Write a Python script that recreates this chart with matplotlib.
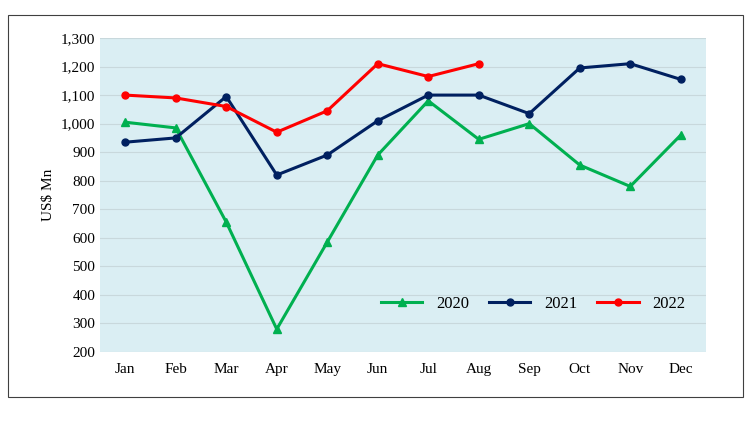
import matplotlib.pyplot as plt
from matplotlib.patches import Rectangle

months = ['Jan', 'Feb', 'Mar', 'Apr', 'May', 'Jun', 'Jul', 'Aug', 'Sep', 'Oct', 'Nov', 'Dec']
y2020 = [1005, 985, 655, 280, 585, 890, 1080, 945, 1000, 855, 780, 960]
y2021 = [935, 950, 1095, 820, 890, 1010, 1100, 1100, 1035, 1195, 1210, 1155]
y2022 = [1100, 1090, 1060, 970, 1045, 1210, 1165, 1210]

plt.rcParams['font.family'] = 'Liberation Serif'

fig = plt.figure(figsize=(7.5, 4.22), dpi=100)
fig.patches.append(Rectangle((8 / 750, 1 - 397 / 422), 735 / 750, 382 / 422,
                             transform=fig.transFigure, fill=False, edgecolor='#404040', linewidth=0.8))
ax = fig.add_axes([100 / 750, 1 - 352 / 422, 606 / 750, 314 / 422])
ax.set_facecolor('#DAEEF3')

x = list(range(len(months)))
ax.plot(x, y2020, color='#00B050', marker='^', markersize=6, linewidth=2.2, label='2020')
ax.plot(x, y2021, color='#002060', marker='o', markersize=5, linewidth=2.2, label='2021')
ax.plot(x[:len(y2022)], y2022, color='#FF0000', marker='o', markersize=5, linewidth=2.2, label='2022')

ax.set_xlim(-0.5, 11.5)
ax.set_ylim(200, 1300)
ax.set_yticks(range(200, 1301, 100))
ax.set_yticklabels([f'{v:,}' for v in range(200, 1301, 100)])
ax.set_xticks(x)
ax.set_xticklabels(months)
ax.tick_params(labelsize=11, length=0)
ax.tick_params(axis='x', pad=8)
ax.grid(axis='y', color='#C8D8DC', linewidth=0.8)
ax.set_axisbelow(True)
for s in ax.spines.values():
    s.set_visible(False)
ax.set_ylabel('US$ Mn', fontsize=11)

ax.legend(loc='lower right', bbox_to_anchor=(0.99, 0.08), ncol=3, frameon=False, fontsize=12,
          handlelength=2.5, columnspacing=1.2)

fig.savefig('out.png')
